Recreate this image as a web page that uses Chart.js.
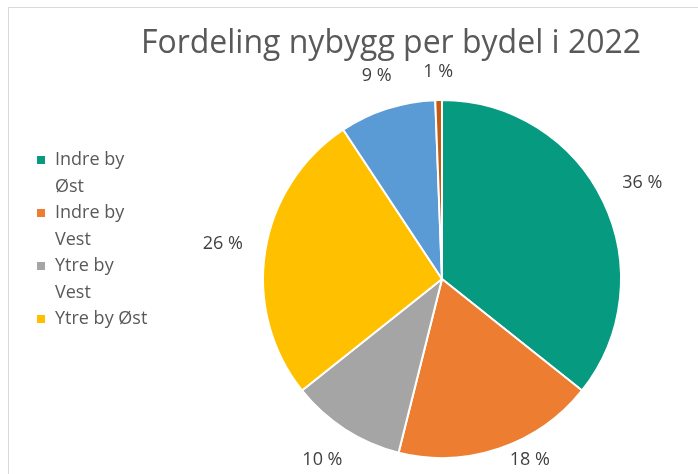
<!DOCTYPE html>
<html>
<head>
<meta charset="utf-8">
<script src="https://cdn.jsdelivr.net/npm/chart.js@4.4.1/dist/chart.umd.min.js"></script>
<style>
  html, body { margin: 0; padding: 0; background: #fff; }
  #wrap { position: relative; width: 698px; height: 474px; overflow: hidden; }
  #frame { position: absolute; left: 8px; top: 7px; width: 800px; height: 600px; border: 1px solid #d9d9d9; box-sizing: border-box; }
  canvas { position: absolute; left: 0; top: 0; }
</style>
</head>
<body>
<div id="wrap">
  <div id="frame"></div>
  <canvas id="c" width="698" height="474"></canvas>
</div>
<script>
const title = "Fordeling nybygg per bydel i 2022";
const categories = ["Indre by Øst", "Indre by Vest", "Ytre by Vest", "Ytre by Øst", "Sentrum", "Øvrige"];
const legendLines = [["Indre by", "Øst"], ["Indre by", "Vest"], ["Ytre by", "Vest"], ["Ytre by Øst"]];
const shares = [35.7, 18.2, 10.4, 26.4, 8.7, 0.6];
const colors = ["#069a80", "#ed7d31", "#a5a5a5", "#ffc000", "#5b9bd5", "#c55a11"];
const FONT = "'Open Sans', 'Liberation Sans', sans-serif";

const overlay = {
  id: 'overlay',
  afterDraw(chart) {
    const ctx = chart.ctx;
    ctx.save();
    // title
    ctx.fillStyle = '#595959';
    ctx.font = "32px " + FONT;
    ctx.textAlign = 'center';
    ctx.textBaseline = 'middle';
    ctx.fillText(title, 391, 44);
    // data labels
    const meta = chart.getDatasetMeta(0);
    ctx.font = "18px " + FONT;
    ctx.fillStyle = '#404040';
    meta.data.forEach((arc, i) => {
      const mid = (arc.startAngle + arc.endAngle) / 2;
      const c = Math.cos(mid), s = Math.sin(mid);
      const d = arc.outerRadius + 20 + Math.abs(c) * 22 + Math.abs(s) * 8;
      let x = arc.x + c * d;
      let y = arc.y + s * d;
      if (y > 460) { x += Math.sign(c) * (y - 460) * 0.9; y = 460; }
      ctx.fillText(Math.round(shares[i]) + " %", x, y);
    });
    // legend
    ctx.textAlign = 'left';
    ctx.font = "18px " + FONT;
    let y = 160;
    legendLines.forEach((lines, i) => {
      ctx.fillStyle = colors[i];
      ctx.fillRect(37, y - 4, 8, 8);
      ctx.fillStyle = '#595959';
      lines.forEach(t => { ctx.fillText(t, 55, y); y += 26.5; });
    });
    ctx.restore();
  }
};

new Chart(document.getElementById('c'), {
  type: 'pie',
  data: {
    labels: categories,
    datasets: [{
      data: shares,
      backgroundColor: colors,
      borderColor: '#ffffff',
      borderWidth: 2
    }]
  },
  options: {
    responsive: false,
    animation: false,
    layout: { padding: { left: 262, right: 76, top: 99, bottom: 15 } },
    plugins: {
      legend: { display: false },
      title: { display: false },
      tooltip: { enabled: false }
    }
  },
  plugins: [overlay]
});
</script>
</body>
</html>
